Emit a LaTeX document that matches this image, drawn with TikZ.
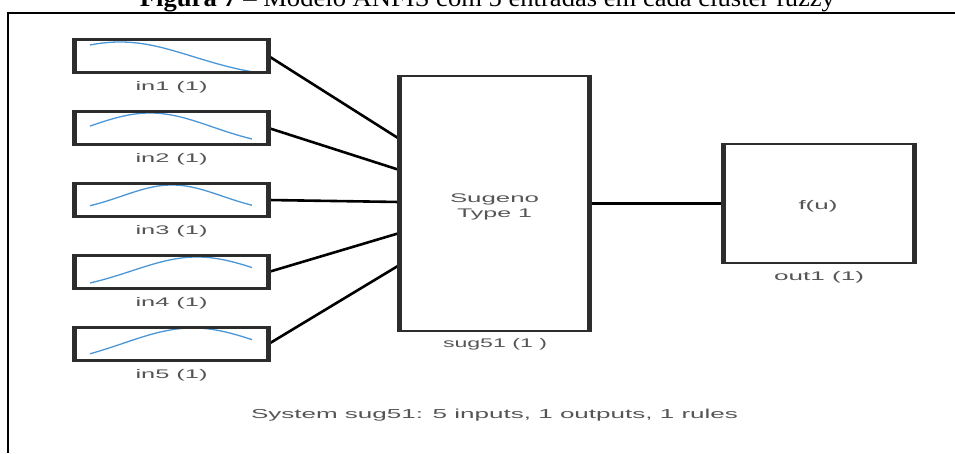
\documentclass[tikz,border=0pt]{standalone}
\usepackage{fontspec}
\usepackage{graphicx}
\setmainfont{Liberation Serif}
\newfontfamily\guifont{Liberation Sans}
\usetikzlibrary{calc}

\definecolor{framegray}{RGB}{45,45,45}
\definecolor{labelgray}{RGB}{85,85,85}
\definecolor{mfblue}{RGB}{75,150,215}

% text squeezed/stretched to a given width, keeping its height
\newcommand\widetext[2]{\resizebox{#1pt}{\height}{#2}}

% block outline: thin top/bottom edges, heavy side edges
\newcommand\blockframe[1]{%
  \draw[framegray, line width=2.5pt] (#1.north west) rectangle (#1.south east);
  \draw[framegray, line width=5pt]
    ([yshift=1.25pt]#1.north west) -- ([yshift=-1.25pt]#1.south west)
    ([yshift=1.25pt]#1.north east) -- ([yshift=-1.25pt]#1.south east);}

\tikzset{
  block/.style={draw=none, inner sep=0pt, outer sep=0pt},
  inbox/.style={block, minimum width=194pt, minimum height=33pt},
  lbl/.style={inner sep=0pt, anchor=base, text=labelgray,
    font=\guifont\fontsize{12.5}{15}\selectfont},
  conn/.style={draw=black, line width=2.6pt},
  mfcurve/.style={draw=mfblue, line width=1.3pt},
}

\begin{document}
\begin{tikzpicture}[x=1pt, y=-1pt]
\useasboundingbox (0,0) rectangle (955,453);
\clip (0,0) rectangle (955,453);

% caption line of the page
\node[inner sep=0pt, anchor=base] (caption) at (487.5,6)
  {\widetext{695}{\fontsize{25}{30}\selectfont\textbf{Figura 7} – Modelo ANFIS com 5 entradas em cada cluster fuzzy}};

% figure border
\coordinate (fBL) at (7.5,453);
\coordinate (fTL) at (7.5,12.5);
\coordinate (fTR) at (955,12.5);
\draw[line width=2pt] (fBL) -- (fTL) -- (fTR);

% input blocks
\foreach \i/\y in {1/56,2/128,3/200,4/272,5/344} {
  \node[inbox] (in\i) at (171.5,\y) {};
  \node[lbl] (inlbl\i) at (171.5,\y+34) {\widetext{72}{in\i\ (1)}};
}

% membership functions
\foreach \c/\s/\a/\p in {120/73/37/42, 150/62/35/113, 172/50/28/185, 197/65/35/257, 193/70/39/328} {
  \draw[mfcurve] plot[domain=90:252, samples=70, smooth]
    (\x, {\p + \a*(1-exp(-0.5*((\x-\c)/\s)^2))});
}

% inference block and output block
\node[block, minimum width=190pt, minimum height=255pt] (sug) at (494.5,203.5) {};
\node[block, minimum width=191pt, minimum height=119pt] (fu) at (819,203.5) {};

% connectors
\draw[conn] (in1.east) -- ([yshift=64.5pt]sug.west);
\draw[conn] (in2.east) -- ([yshift=33.5pt]sug.west);
\draw[conn] (in3.east) -- ([yshift=1.5pt]sug.west);
\draw[conn] (in4.east) -- ([yshift=-29.5pt]sug.west);
\draw[conn] (in5.east) -- ([yshift=-61.5pt]sug.west);
\draw[draw=black, line width=2.2pt] (sug.east) -- (fu.west);

% outlines
\foreach \n in {in1,in2,in3,in4,in5,sug,fu} { \blockframe{\n} }

% block texts
\node[lbl] (sugA) at (494.5,202) {\widetext{89}{Sugeno}};
\node[lbl] (sugB) at (494.5,217) {\widetext{75}{Type 1}};
\node[lbl] (suglbl) at (495,347) {\widetext{104}{sug51 (1 )}};
\node[lbl] (fut) at (818,209.5) {\widetext{39}{f(u)}};
\node[lbl] (fulbl) at (819,280) {\widetext{90}{out1 (1)}};

% system summary
\node[lbl, font=\guifont\fontsize{13}{15}\selectfont] (summary) at (494.5,418)
  {\widetext{487}{System sug51: 5 inputs, 1 outputs, 1 rules}};
\end{tikzpicture}
\end{document}
